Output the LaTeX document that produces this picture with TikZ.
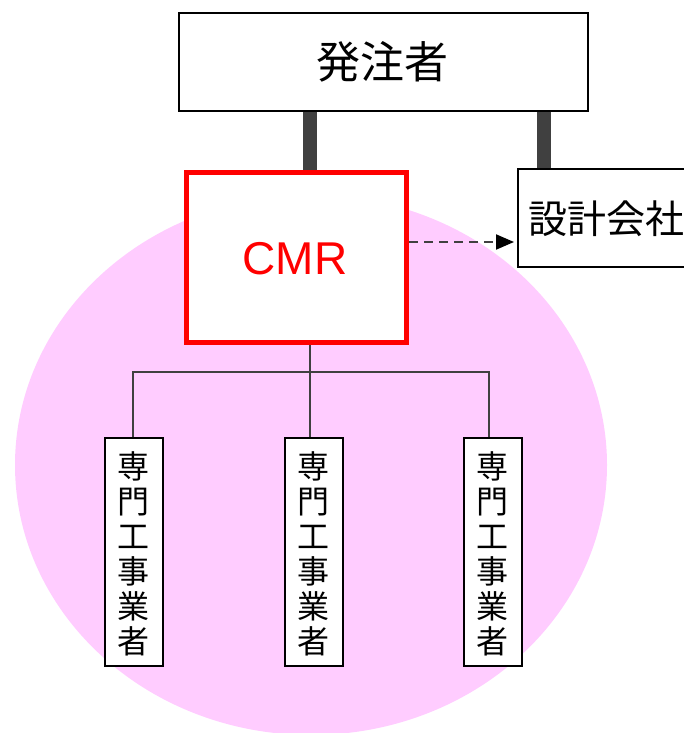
\documentclass[tikz,border=0pt]{standalone}
\usepackage{fontspec}
\setmainfont{Liberation Sans}
\newfontfamily\jp{Noto Sans CJK JP}
\usetikzlibrary{arrows.meta}
\definecolor{pinkfill}{RGB}{255,204,255}
\definecolor{linegray}{RGB}{64,64,64}
\tikzset{
  box/.style={draw=black, line width=2pt, fill=white, inner sep=0pt},
  subbox/.style={draw=black, line width=2pt, fill=white, minimum width=58pt, minimum height=228pt, inner sep=0pt, anchor=north west},
  thick conn/.style={draw=linegray, line width=14pt},
  tree/.style={draw=linegray, line width=2.2pt},
}
\begin{document}
\begin{tikzpicture}[x=1pt,y=-1pt]
\useasboundingbox (0,0) rectangle (684,733);
\begin{scope}
\clip (0,0) rectangle (684,733);
\fill[pinkfill] (311,465) ellipse [x radius=296, y radius=270];
% boxes
\node[box, minimum width=409pt, minimum height=98pt, anchor=north west] (owner) at (178,12) {};
\node[font=\jp\fontsize{44pt}{48pt}\selectfont] (ownert) at (382,62) {発注者};
\node[box, minimum width=200pt, minimum height=98pt, anchor=north west] (design) at (517,168) {};
\node[font=\jp\fontsize{39pt}{42pt}\selectfont, anchor=west] (designt) at (525,219) {設計会社};
\node[draw=red, line width=5pt, fill=white, minimum width=220pt, minimum height=170pt, anchor=north west, inner sep=0pt] (cmr) at (184,170) {};
\node[text=red, font=\fontsize{46pt}{50pt}\selectfont] (cmrt) at (295,259) {CMR};
% thick connectors
\draw[thick conn] (owner.south -| 310,0) -- (cmr.north -| 310,0);
\draw[thick conn] (owner.south -| 544,0) -- (design.north -| 544,0);
% dashed arrow
\draw[draw=linegray, line width=2pt, dash pattern=on 9pt off 6pt, -{Triangle[length=18pt,width=15pt,fill=black,color=black]}] (cmr.east |- 0,242) -- ([xshift=-3pt]design.west |- 0,242);
% sub boxes
\foreach \n/\x in {s1/104, s2/284, s3/463}{
  \node[subbox] (\n) at (\x,437) {};
  \node[font=\jp\fontsize{32pt}{35pt}\selectfont, align=center, anchor=north] (\n t) at (\x+29,448) {専\\門\\工\\事\\業\\者};
}
% tree lines
\coordinate (bar) at (0,372);
\draw[tree] (cmr.south -| 310,0) -- (s2.north -| 310,0);
\draw[tree] (s1.north -| 133,0) -- (bar -| 133,0) -- (bar -| 489,0) -- (s3.north -| 489,0);
\end{scope}
\end{tikzpicture}
\end{document}
